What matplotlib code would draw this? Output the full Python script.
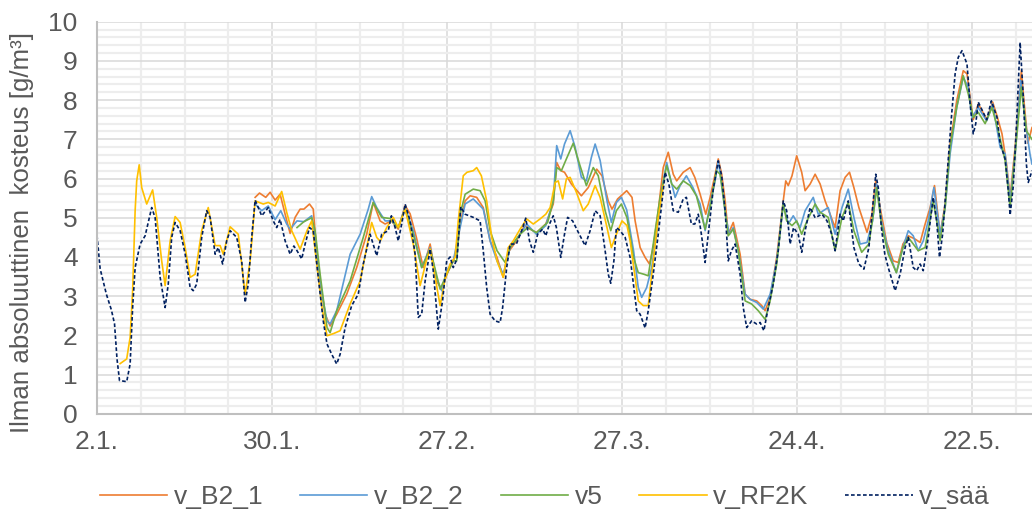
import numpy as np
import pandas as pd
import matplotlib
matplotlib.use("Agg")
import matplotlib.pyplot as plt
import matplotlib.dates as mdates
from matplotlib.ticker import MultipleLocator, FixedLocator, FuncFormatter

plt.rcParams["font.family"] = ["Liberation Sans", "DejaVu Sans"]

start = pd.Timestamp("2019-01-02")

# measurement days (offset from 2.1.) and absolute humidity [g/m3]
b2_1_day = [25.3, 26.0, 27.0, 27.7, 28.5, 29.3, 30.1, 30.9, 31.7, 32.5, 33.1, 34.0, 34.6, 35.1, 35.7,
            36.5, 37.3, 38.35, 39.95, 41.55, 43.15, 44.2, 45.3, 46.1, 47.1, 48.2, 49.3, 50.1, 51.1,
            52.2, 53.3, 54.3, 55.15, 55.95, 57.0, 57.55, 58.1, 58.9, 59.7, 60.75, 61.8, 62.9, 64.0,
            65.0, 65.8, 67.1, 68.4, 68.9, 70.3, 71.8, 73.0, 73.55, 74.2, 74.8, 75.9, 77.5, 78.6,
            79.95, 80.8, 81.8, 82.4, 83.3, 84.75, 85.6, 86.1, 86.9, 87.7, 88.4, 89.0, 89.8, 90.6,
            91.4, 92.2, 92.75, 93.8, 94.9, 95.65, 96.5, 97.4, 98.1, 98.9, 99.4, 99.95, 100.5, 101.0,
            101.8, 102.9, 103.7, 104.5, 105.55, 106.35, 106.9, 107.7, 108.75, 109.8, 110.2, 110.6,
            111.2, 111.95, 112.75, 113.3, 114.1, 114.9, 115.7, 116.5, 117.3, 118.1, 118.9, 119.7,
            120.4, 121.1, 121.9, 123.2, 124.0, 124.6, 125.3, 126.35, 127.4, 128.2, 128.95, 129.8,
            130.85, 131.7, 132.5, 133.3, 134.0, 134.9, 135.7, 136.5, 137.55, 138.6, 139.2, 139.7,
            140.2, 141.0, 141.6, 142.35, 143.3, 144.0, 144.8, 145.5, 146.1, 146.9, 147.9, 148.3,
            148.95, 149.6]
b2_1_val = [5.52, 5.63, 5.52, 5.65, 5.45, 5.6, 5.09, 4.6, 5.01, 5.22, 5.22, 5.35, 5.22, 4.24, 3.39,
            2.54, 2.24, 2.54, 3.05, 3.73, 4.58, 5.39, 4.92, 4.84, 4.92, 4.71, 5.31, 5.1, 4.5,
            3.73, 4.33, 3.39, 3.18, 3.55, 3.9, 4.16, 4.84, 5.43, 5.56, 5.52, 5.26, 4.41, 3.99,
            3.48, 4.12, 4.41, 4.8, 4.75, 4.62, 4.84, 5.35, 6.41, 6.2, 6.16, 5.86, 5.56, 5.77,
            6.24, 6.07, 5.43, 5.22, 5.48, 5.69, 5.52, 4.92, 4.24, 3.99, 3.82, 4.24, 5.18, 6.28,
            6.67, 6.11, 5.94, 6.16, 6.28, 6.03, 5.6, 5.09, 5.52, 6.11, 6.5, 6.11, 5.43, 4.58,
            4.88, 4.07, 3.05, 2.92, 2.88, 2.76, 2.63, 2.96, 3.99, 5.43, 5.94, 5.82,
            6.07, 6.58, 6.16, 5.69, 5.86, 6.11, 5.86, 5.43, 5.09, 4.75, 5.69, 6.03,
            6.16, 5.77, 5.26, 4.63, 5.09, 5.94, 5.26, 4.37, 3.9, 3.86, 4.33, 4.54,
            4.46, 4.37, 4.84, 5.26, 5.82, 4.58, 5.35, 6.88, 7.98, 8.75, 8.67, 8.07,
            7.5, 7.9, 7.73, 7.5, 7.95, 7.6, 7.14, 6.4, 5.52, 6.8, 8.75, 8.0,
            6.9, 7.3]

b2_2_day = [25.3, 26.35, 27.4, 28.5, 29.4, 30.35, 30.9, 32.0, 33.1, 34.35, 35.1, 36.0, 36.8, 37.3,
            38.35, 40.5, 42.1, 43.4, 43.95, 44.75, 46.1, 47.1, 48.2, 49.3, 50.6, 51.95, 53.3, 54.3,
            55.15, 55.95, 57.0, 58.1, 58.9, 60.2, 61.8, 62.9, 64.0, 65.0, 66.1, 67.7, 68.75, 70.3,
            71.8, 73.0, 73.55, 74.2, 74.8, 75.7, 76.5, 77.5, 78.3, 79.1, 79.7, 80.5, 81.6, 82.3,
            83.1, 83.9, 84.75, 85.85, 86.6, 87.15, 87.95, 88.75, 89.6, 90.35, 91.15, 91.7, 92.5,
            93.3, 94.3, 95.35, 96.5, 97.3, 98.1, 98.9, 99.4, 99.95, 100.6, 101.2, 101.8, 102.6,
            103.7, 104.5, 105.55, 106.6, 107.7, 108.75, 109.8, 110.6, 111.4, 112.5, 113.3, 114.6,
            115.4, 116.2, 117.0, 118.1, 119.2, 120.2, 121.1, 122.1, 123.2, 124.1, 124.75, 125.5,
            126.6, 127.9, 128.95, 129.8, 130.6, 131.4, 132.2, 133.0, 133.9, 134.9, 135.7, 136.5,
            137.55, 138.6, 139.4, 140.0, 141.0, 142.35, 143.3, 144.5, 145.3, 146.1, 146.9, 147.8,
            148.5, 149.3, 149.6]
b2_2_val = [5.35, 5.18, 5.3, 4.95, 5.18, 4.84, 4.71, 4.92, 4.9, 5.05, 4.07, 3.05, 2.37, 2.29,
            2.63, 4.07, 4.58, 5.22, 5.54, 5.26, 4.92, 4.92, 4.75, 5.26, 4.67, 3.73, 4.24, 3.48,
            3.14, 3.65, 3.9, 4.75, 5.35, 5.48, 5.22, 4.41, 3.9, 3.56, 4.24, 4.58, 4.84, 4.58,
            4.8, 5.43, 6.84, 6.5, 6.88, 7.22, 6.8, 6.03, 5.94, 6.54, 6.88, 6.46, 5.43, 4.88,
            5.39, 5.52, 5.2, 4.16, 3.22, 2.97, 3.22, 3.73, 4.67, 5.69, 6.41, 6.03, 5.52,
            5.82, 6.07, 5.77, 5.35, 4.67, 5.35, 5.94, 6.45, 5.86, 5.01, 4.58, 4.75, 4.16,
            3.05, 2.92, 2.84, 2.67, 3.05, 3.9, 5.35, 4.84, 5.05, 4.75, 5.18, 5.52,
            5.09, 5.18, 5.26, 4.58, 5.26, 5.73, 5.01, 4.33, 4.37, 4.92, 5.86, 4.92,
            4.16, 3.6, 4.24, 4.67, 4.54, 4.16, 4.41, 4.92, 5.77, 4.58, 5.26, 6.63,
            7.81, 8.58, 8.33, 7.56, 7.81, 7.47, 7.9, 6.8, 6.63, 5.43, 6.63, 8.5,
            7.48, 6.6, 6.37]

v5_day = [32.0, 33.1, 34.35, 34.9, 35.7, 36.8, 37.3, 38.35, 40.5, 42.6, 44.2, 45.55, 46.9, 48.2,
          49.3, 50.6, 51.95, 53.3, 54.9, 55.95, 57.0, 57.55, 58.1, 58.9, 60.2, 61.3, 62.1, 62.9,
          64.0, 65.3, 66.1, 67.7, 68.9, 70.3, 72.1, 73.0, 73.55, 74.3, 75.1, 76.2, 77.2, 78.3,
          79.4, 80.2, 81.3, 82.2, 83.1, 83.9, 84.8, 85.85, 86.6, 87.5, 88.2, 89.0, 90.1, 91.15,
          91.95, 92.75, 93.8, 94.9, 95.9, 97.3, 98.1, 99.1, 99.7, 100.5, 101.0, 101.8, 102.6,
          103.7, 104.75, 105.8, 106.9, 107.7, 108.75, 109.8, 110.35, 111.2, 111.95, 112.75,
          113.55, 114.9, 115.7, 117.0, 118.1, 119.2, 120.2, 121.1, 122.35, 123.5, 124.3, 124.75,
          125.5, 126.6, 127.9, 128.95, 129.8, 130.6, 131.4, 132.5, 133.8, 134.9, 135.7, 136.5,
          137.55, 138.6, 139.4, 140.2, 141.0, 142.1, 143.2, 144.2, 145.3, 146.1, 146.9, 147.9,
          148.7, 149.6]
v5_val = [4.75, 4.9, 5.0, 4.67, 3.56, 2.2, 2.07, 2.63, 3.39, 4.5, 5.39, 5.01, 4.98, 4.75,
          5.22, 4.58, 3.73, 4.2, 3.18, 3.56, 3.9, 3.9, 5.09, 5.6, 5.73, 5.69, 5.43, 4.67,
          4.16, 3.86, 4.24, 4.58, 4.75, 4.62, 4.88, 5.43, 6.28, 6.2, 6.5, 6.9, 6.37, 5.82,
          6.28, 6.07, 5.18, 4.67, 5.18, 5.35, 5.0, 3.99, 3.6, 3.56, 3.52, 4.33, 5.52, 6.33,
          5.86, 5.73, 5.94, 5.82, 5.56, 4.71, 5.26, 6.2, 6.11, 5.18, 4.54, 4.71, 4.16,
          2.88, 2.8, 2.63, 2.41, 2.88, 3.82, 5.35, 4.92, 4.8, 4.92, 4.58,
          4.9, 5.35, 5.14, 5.01, 4.16, 5.01, 5.39, 4.67, 4.12, 4.33, 5.18, 5.77,
          4.84, 4.07, 3.6, 4.24, 4.5, 4.33, 4.16, 4.24, 5.43, 4.41, 5.26, 6.8,
          7.81, 8.62, 8.16, 7.56, 7.69, 7.4, 7.81, 7.22, 6.46, 5.26, 6.63, 8.33,
          7.22, 7.0]

rf2k_day = [3.7, 4.75, 5.3, 5.7, 6.1, 6.35, 6.75, 7.15, 7.95, 8.9, 9.55, 10.35, 10.9, 11.7, 12.5,
            13.3, 14.1, 14.9, 15.7, 16.75, 17.8, 18.9, 19.7, 20.2, 21.3, 22.6, 23.7, 24.5, 25.3,
            26.6, 27.4, 28.5, 29.55, 30.35, 31.15, 32.5, 33.6, 34.35, 35.1, 36.0, 36.8, 37.9, 38.9,
            40.5, 42.1, 43.15, 43.95, 44.75, 45.3, 46.35, 47.4, 48.2, 49.3, 50.6, 51.7, 52.7, 53.3,
            54.1, 54.9, 55.7, 56.5, 57.3, 57.8, 58.6, 59.2, 60.2, 60.75, 61.5, 62.35, 63.15, 64.0,
            65.0, 65.8, 66.6, 67.7, 68.75, 69.8, 70.9, 71.8, 72.5, 73.3, 73.8, 74.5, 75.1, 75.7,
            76.7, 77.8, 78.6, 79.7, 80.5, 81.6, 82.3, 83.1, 84.0, 84.8, 85.3, 86.1, 86.6, 87.4,
            88.2, 89.0, 89.8, 90.6]
rf2k_val = [1.28, 1.4, 1.95, 3.14, 5.18, 5.94, 6.35, 5.77, 5.35, 5.71, 5.01, 3.9, 3.27, 4.41, 5.03,
            4.88, 4.24, 3.48, 3.56, 4.67, 5.26, 4.29, 4.29, 4.07, 4.77, 4.58, 3.05, 3.9, 5.43,
            5.35, 5.39, 5.3, 5.67, 5.14, 4.67, 4.2, 4.67, 4.92, 3.9, 2.71, 1.99, 2.05, 2.12,
            2.8, 3.39, 4.24, 4.88, 4.5, 4.4, 4.75, 5.01, 4.75, 5.22, 4.33, 3.27, 3.9, 4.2,
            3.48, 2.76, 3.45, 3.82, 3.99, 4.92, 6.07, 6.16, 6.2, 6.28, 6.07, 5.43, 4.5, 3.9,
            3.48, 4.24, 4.41, 4.71, 4.97, 4.84, 4.97, 5.09, 5.26, 5.9, 5.94, 5.48, 5.99, 6.03,
            5.65, 5.18, 5.35, 5.82, 5.52, 4.75, 4.24, 4.58, 4.92, 4.8, 4.41, 3.48, 2.88, 2.76,
            2.76, 3.9, 5.0, 5.82]

saa_day = [0.0, 0.5, 1.5, 2.3, 2.8, 3.2, 3.6, 4.75, 5.3, 5.7, 6.1, 6.9, 7.7, 8.75, 9.3, 10.1, 10.9,
           11.4, 11.95, 12.5, 13.3, 14.1, 14.9, 15.4, 15.95, 16.75, 17.55, 18.1, 18.9, 19.4, 20.1,
           20.75, 21.3, 22.35, 23.15, 23.7, 24.2, 24.75, 25.3, 26.35, 27.4, 28.2, 28.75, 29.3, 30.1,
           30.9, 31.5, 32.0, 32.75, 33.3, 34.0, 34.6, 35.4, 36.2, 36.8, 37.55, 38.35, 38.9, 39.7,
           40.75, 41.8, 42.6, 43.7, 44.75, 45.55, 46.6, 47.1, 47.7, 48.2, 48.75, 49.3, 50.1, 50.9,
           51.4, 51.95, 52.5, 53.3, 53.8, 54.6, 55.3, 55.95, 56.5, 57.0, 57.6, 58.2, 58.9, 60.2,
           61.3, 61.8, 62.35, 62.9, 63.7, 64.5, 64.9, 65.55, 66.1, 67.1, 67.95, 68.6, 69.2, 69.8,
           70.5, 71.3, 71.8, 72.4, 73.0, 73.5, 74.2, 74.8, 75.3, 76.1, 77.0, 78.1, 78.9, 79.7,
           80.5, 81.3, 81.8, 82.2, 82.7, 83.1, 83.7, 84.5, 85.3, 85.9, 86.35, 86.9, 87.7, 88.2,
           89.0, 89.8, 90.6, 90.9, 91.5, 92.2, 93.0, 93.8, 94.3, 95.1, 95.65, 96.2, 96.7, 97.3,
           97.8, 98.6, 99.4, 99.95, 100.5, 101.0, 101.5, 102.1, 102.9, 103.4, 103.95, 104.75,
           105.55, 106.1, 106.7, 107.4, 108.2, 109.0, 109.8, 110.35, 110.9, 111.45, 112.2, 112.75,
           113.3, 114.1, 114.9, 116.0, 116.8, 117.55, 118.1, 118.9, 119.4, 120.2, 121.1, 121.9,
           122.7, 123.5, 124.1, 124.6, 125.0, 125.5, 126.05, 126.6, 127.7, 128.5, 129.3, 129.8,
           130.6, 131.15, 131.7, 132.2, 133.0, 133.8, 134.35, 134.8, 135.3, 135.95, 136.75, 137.3,
           137.8, 138.4, 139.2, 139.7, 140.2, 140.6, 141.0, 141.6, 142.35, 143.1, 144.0, 144.5,
           145.3, 145.8, 146.1, 146.6, 147.1, 147.7, 148.2, 148.7, 149.0, 149.6]
saa_val = [4.55, 3.7, 3.05, 2.65, 2.3, 1.4, 0.85, 0.82, 1.27, 2.71, 3.73, 4.33, 4.54, 5.26, 5.0, 3.48, 2.71,
           3.31, 4.5, 4.88, 4.67, 4.08, 3.22, 3.14, 3.31, 4.5, 5.18, 5.01, 4.07, 4.24, 3.82,
           4.41, 4.67, 4.5, 3.9, 2.84, 3.31, 4.5, 5.45, 5.05, 5.26, 4.92, 4.75, 4.96, 4.41,
           4.07, 4.28, 4.16, 3.95, 4.33, 4.75, 4.67, 3.48, 2.37, 1.78, 1.52, 1.27, 1.52, 2.2,
           2.76, 3.05, 3.82, 4.58, 4.03, 4.58, 4.67, 5.05, 4.75, 4.41, 4.84, 5.35, 4.92, 4.07,
           2.46, 2.54, 3.39, 4.2, 3.65, 2.16, 2.9, 3.9, 4.0, 3.73, 3.95, 5.28, 5.09, 5.01,
           4.92, 4.16, 3.22, 2.54, 2.37, 2.33, 2.71, 3.73, 4.33, 4.33, 4.67, 4.99, 4.41, 4.12,
           4.58, 4.71, 4.54, 4.84, 5.05, 4.75, 3.99, 4.58, 5.01, 4.92, 4.63, 4.29, 4.67, 5.18,
           5.05, 4.16, 3.56, 3.33, 3.9, 4.75, 4.67, 4.5, 3.99, 3.22, 2.63, 2.54, 2.19, 2.63,
           3.56, 4.58, 5.69, 6.16, 5.86, 5.18, 5.14, 5.48, 5.52, 4.84, 4.84, 5.09, 4.58, 3.86,
           4.58, 5.73, 6.45, 6.07, 5.18, 3.9, 4.16, 4.33, 3.56, 2.71, 2.2, 2.37,
           2.29, 2.33, 2.12, 2.71, 3.31, 4.16, 5.43, 5.18, 4.33, 4.75, 4.58, 4.12,
           4.67, 5.26, 5.0, 5.09, 4.92, 4.58, 4.16, 5.09, 4.92, 5.43, 4.24, 3.82,
           3.69, 4.24, 5.26, 6.11, 5.77, 4.75, 4.07, 3.73, 3.14, 3.56, 4.24, 4.5,
           3.73, 3.65, 3.82, 3.65, 4.5, 5.52, 4.92, 3.99, 4.58, 5.94, 7.65, 8.67,
           9.09, 9.26, 8.92, 7.9, 7.14, 7.4, 7.95, 7.75, 7.5, 7.98, 7.56, 6.9,
           6.5, 5.7, 5.07, 5.8, 7.3, 9.47, 8.1, 6.37, 5.9, 6.2]

series = [
    ("v_B2_1", b2_1_day, b2_1_val, "#ED7D31", "-"),
    ("v_B2_2", b2_2_day, b2_2_val, "#5B9BD5", "-"),
    ("v5", v5_day, v5_val, "#70AD47", "-"),
    ("v_RF2K", rf2k_day, rf2k_val, "#FFC000", "-"),
    ("v_sää", saa_day, saa_val, "#002060", (0, (2.2, 1.4))),
]

major_dates = pd.date_range(start, periods=6, freq="28D")
minor_dates = pd.date_range(start, periods=22, freq="7D")

fig = plt.figure(figsize=(10.32, 5.16), dpi=100)
ax = fig.add_axes([0.094, 0.198, 0.906, 0.760])

for name, days, vals, color, ls in series:
    t = start + pd.to_timedelta(np.array(days), unit="D")
    ax.plot(t, vals, color=color, lw=1.2, ls=ls, label=name)

ax.set_xlim(start, start + pd.Timedelta(days=149.6))
ax.set_ylim(0, 10)

ax.xaxis.set_major_locator(FixedLocator(mdates.date2num(major_dates)))
ax.xaxis.set_minor_locator(FixedLocator(mdates.date2num(minor_dates)))
ax.xaxis.set_major_formatter(FuncFormatter(
    lambda x, pos: "{0.day}.{0.month}.".format(mdates.num2date(x))))
ax.yaxis.set_major_locator(MultipleLocator(1))
ax.yaxis.set_minor_locator(MultipleLocator(0.2))

ax.grid(which="minor", color="#EDEDED", lw=1.6, zorder=0)
ax.grid(which="major", color="#D9D9D9", lw=1.1, zorder=0)
ax.set_axisbelow(True)

ax.tick_params(which="both", length=0, colors="#595959", labelsize=19)
ax.tick_params(axis="y", pad=14)
ax.tick_params(axis="x", pad=12)

for side in ("top", "right"):
    ax.spines[side].set_visible(False)
for side in ("left", "bottom"):
    ax.spines[side].set_color("#BFBFBF")
    ax.spines[side].set_linewidth(1.5)

fig.text(0.021, 0.55, "Ilman absoluuttinen  kosteus [g/m³]", rotation=90,
         ha="center", va="center", fontsize=18.6, color="#595959")

fig.legend(loc="center", bbox_to_anchor=(0.528, 0.037), ncol=5, frameon=False,
           fontsize=19, labelcolor="#595959", handlelength=2.55, handletextpad=0.25,
           columnspacing=1.4)

fig.savefig("out.png", dpi=100)
